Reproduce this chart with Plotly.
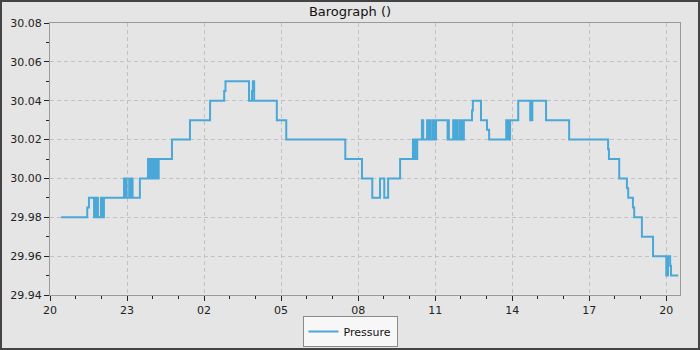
import plotly.graph_objects as go
import pandas as pd

# Step data: time at which each pressure level begins (day 1 = 19th, day 2 = 20th)
day1_times = ["20:26", "21:27", "21:31", "21:43", "21:45", "21:48", "21:50", "21:52",
              "21:59", "22:01", "22:04", "22:05", "22:06", "22:53", "22:55", "22:57",
              "22:59", "23:05", "23:07", "23:09", "23:11", "23:12", "23:13", "23:30",
              "23:49", "23:51", "23:54", "23:56", "23:58"]
day1_pressure = [29.98, 29.985, 29.99, 29.98, 29.99, 29.98, 29.99, 29.98,
                 29.99, 29.98, 29.99, 29.98, 29.99, 30.00, 29.99, 30.00,
                 29.99, 30.00, 29.99, 30.00, 29.99, 30.00, 29.99, 30.00,
                 30.01, 30.00, 30.01, 30.00, 30.01]

day2_times = ["00:01", "00:03", "00:05", "00:08", "00:10", "00:14", "00:45", "01:27",
              "02:14", "02:47", "02:50", "03:45", "03:52", "03:54", "03:57", "04:50",
              "05:12", "07:30", "08:09", "08:33", "08:51", "09:01", "09:10", "09:38",
              "10:08", "10:10", "10:13", "10:15", "10:18", "10:29", "10:32", "10:41",
              "10:43", "10:46", "10:48", "10:53", "10:55", "10:57", "11:00", "11:02",
              "11:29", "11:31", "11:32", "11:42", "11:44", "11:47", "11:49", "11:51",
              "11:53", "11:58", "12:00", "12:03", "12:05", "12:07", "12:26", "12:28",
              "12:47", "13:01", "13:06", "13:46", "13:48", "13:50", "13:53", "13:55",
              "14:14", "14:42", "14:44", "14:45", "14:47", "15:19", "16:13", "17:44",
              "17:46", "18:10", "18:28", "18:31", "18:42", "18:45", "19:03", "19:29",
              "20:00", "20:04", "20:09", "20:11", "20:28"]
day2_pressure = [30.00, 30.01, 30.00, 30.01, 30.00, 30.01, 30.02, 30.03,
                 30.04, 30.045, 30.05, 30.04, 30.045, 30.05, 30.04, 30.03,
                 30.02, 30.01, 30.00, 29.99, 30.00, 29.99, 30.00, 30.01,
                 30.02, 30.01, 30.02, 30.01, 30.02, 30.03, 30.02, 30.03,
                 30.02, 30.03, 30.02, 30.03, 30.02, 30.03, 30.02, 30.03,
                 30.02, 30.03, 30.02, 30.03, 30.02, 30.03, 30.02, 30.03,
                 30.02, 30.03, 30.02, 30.03, 30.02, 30.03, 30.035, 30.04,
                 30.03, 30.025, 30.02, 30.03, 30.02, 30.03, 30.02, 30.03,
                 30.04, 30.03, 30.04, 30.03, 30.04, 30.03, 30.02, 30.015,
                 30.01, 30.00, 29.995, 29.99, 29.985, 29.98, 29.97, 29.96,
                 29.95, 29.96, 29.955, 29.95, 29.95]

x_start = "2024-03-19 20:00"
x_end = "2024-03-20 20:32"
y_ticks = [29.94, 29.96, 29.98, 30.00, 30.02, 30.04, 30.06, 30.08]

times = pd.to_datetime(["2024-03-19 " + t for t in day1_times] +
                       ["2024-03-20 " + t for t in day2_times])
pressure = day1_pressure + day2_pressure

fig = go.Figure()
fig.add_trace(go.Scatter(
    x=times, y=pressure, mode="lines", name="Pressure",
    line=dict(color="#4aa8d8", width=2, shape="hv"),
))

axis_common = dict(
    showline=True, linecolor="#9a9a9a", linewidth=1, mirror=True,
    ticks="outside", ticklen=5, tickcolor="#222", tickwidth=1,
    showgrid=True, gridcolor="#c2c2c2", griddash="4px,3px", gridwidth=1,
    zeroline=False,
    tickfont=dict(family="DejaVu Sans", size=11, color="#222"),
)

fig.update_layout(
    width=700, height=350,
    margin=dict(l=50, r=20, t=23, b=55, autoexpand=False),
    paper_bgcolor="#e5e5e5", plot_bgcolor="#e5e5e5",
    font=dict(family="DejaVu Sans", size=11, color="#222"),
    title=dict(text="Barograph ()", x=0.5, xanchor="center", y=1 - 11 / 350,
               yanchor="middle", font=dict(family="DejaVu Sans", size=13, color="#111")),
    showlegend=True,
    legend=dict(orientation="v", x=(350 - 50) / 630, xanchor="center",
                y=-52 / 272, yanchor="bottom", bgcolor="#f7f7f7",
                bordercolor="#8a8a8a", borderwidth=1,
                font=dict(family="DejaVu Sans", size=11, color="#111"),
                itemwidth=30, tracegroupgap=0),
    xaxis=dict(
        type="date", range=[x_start, x_end],
        tick0="2024-03-19 20:00", dtick=3 * 3600000, tickformat="%H",
        minor=dict(dtick=3600000, ticks="outside", ticklen=3, tickcolor="#222", showgrid=False),
        **axis_common,
    ),
    yaxis=dict(
        range=[y_ticks[0], y_ticks[-1]], tickvals=y_ticks, tickformat=".2f",
        minor=dict(dtick=0.01, tick0=29.94, ticks="outside", ticklen=3, tickcolor="#222", showgrid=False),
        **axis_common,
    ),
    shapes=[dict(type="rect", xref="paper", yref="paper",
                 x0=-50 / 630, x1=650 / 630, y0=-55 / 272, y1=295 / 272,
                 line=dict(color="#444", width=4), fillcolor="rgba(0,0,0,0)", layer="above")],
)

fig.write_html("out.html")
